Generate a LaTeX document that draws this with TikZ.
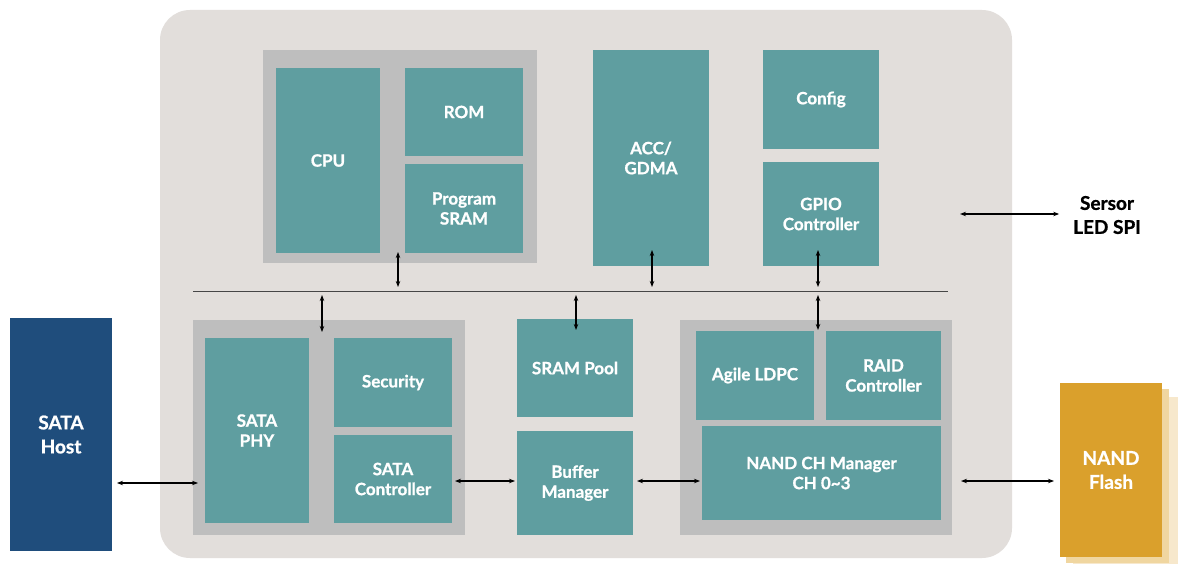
\documentclass[tikz,border=0pt]{standalone}
\usepackage{fontspec}
\setmainfont{Lato}[BoldFeatures={FakeBold=0.9}]
\usetikzlibrary{arrows.meta,calc}
\definecolor{bgchip}{RGB}{226,222,219}
\definecolor{grp}{RGB}{190,190,190}
\definecolor{tealb}{RGB}{95,158,160}
\definecolor{hostb}{RGB}{31,77,124}
\definecolor{flashb}{RGB}{218,160,44}
\definecolor{flashs1}{RGB}{240,214,160}
\definecolor{flashs2}{RGB}{247,232,204}
\definecolor{busc}{RGB}{70,70,70}
\tikzset{
  blk/.style={rectangle, inner sep=0pt, outer sep=0pt, draw=none, anchor=north west,
    text=white, font=\bfseries\fontsize{17}{20}\selectfont, align=center},
  tealbox/.style={blk, fill=tealb},
  grpbox/.style={blk, fill=grp},
  bigbox/.style={blk, font=\bfseries\fontsize{19}{24}\selectfont},
  arr/.style={{Stealth[length=6pt,width=4.5pt]}-{Stealth[length=6pt,width=4.5pt]}, line width=1.2pt, black},
  busline/.style={line width=1pt, busc}
}
\begin{document}
\begin{tikzpicture}[x=1pt,y=-1pt]
\useasboundingbox[fill=white] (0,0) rectangle (1183,564);
% chip background
\node[blk, fill=bgchip, rounded corners=30pt, minimum width=852pt, minimum height=548pt] (chip) at (160,10) {};
% top-left group
\node[grpbox, minimum width=274pt, minimum height=213pt] (tgroup) at (263,50) {};
\node[tealbox, minimum width=104pt, minimum height=185pt] (cpu) at (276,68) {CPU};
\node[tealbox, minimum width=118pt, minimum height=88pt] (rom) at (405,68) {ROM};
\node[tealbox, minimum width=118pt, minimum height=89pt] (psram) at (405,164) {Program\\SRAM};
\node[tealbox, minimum width=116pt, minimum height=216pt] (acc) at (593,50) {ACC/\\GDMA};
\node[tealbox, minimum width=116pt, minimum height=99pt] (config) at (763,50) {Config};
\node[tealbox, minimum width=116pt, minimum height=104pt] (gpio) at (763,162) {GPIO\\Controller};
% bus
\coordinate (busL) at (193,291);
\coordinate (busR) at (948,291);
\draw[busline] (busL) -- (busR);
% bottom-left group
\node[grpbox, minimum width=272pt, minimum height=215pt] (lgroup) at (193,320) {};
\node[tealbox, minimum width=104pt, minimum height=185pt] (phy) at (205,338) {SATA\\PHY};
\node[tealbox, minimum width=118pt, minimum height=89pt] (sec) at (334,338) {Security};
\node[tealbox, minimum width=118pt, minimum height=88pt] (sctl) at (334,435) {SATA\\Controller};
% middle
\node[tealbox, minimum width=116pt, minimum height=98pt] (sram) at (517,319) {SRAM Pool};
\node[tealbox, minimum width=116pt, minimum height=104pt] (buf) at (517,431) {Buffer\\Manager};
% bottom-right group
\node[grpbox, minimum width=272pt, minimum height=215pt] (rgroup) at (680,320) {};
\node[tealbox, minimum width=118pt, minimum height=89pt] (ldpc) at (696,331) {Agile LDPC};
\node[tealbox, minimum width=115pt, minimum height=89pt] (raid) at (826,331) {RAID\\Controller};
\node[tealbox, minimum width=239pt, minimum height=94pt] (nandch) at (702,426) {NAND CH Manager\\CH 0\char`\~3};
% externals
\node[bigbox, fill=hostb, minimum width=102pt, minimum height=233pt] (host) at (10,318) {SATA\\Host};
\node[blk, fill=flashs2, minimum width=105pt, minimum height=175pt] (flashsh2) at (1073,397) {};
\node[blk, fill=flashs1, minimum width=103pt, minimum height=174pt] (flashsh1) at (1066,389) {};
\node[bigbox, fill=flashb, minimum width=102pt, minimum height=174pt] (flash) at (1060,383) {NAND\\Flash};
\node[bigbox, text=black, anchor=center] (sensor) at (1107,215) {Sersor\\LED SPI};
% vertical arrows
\draw[arr] ([shift={(-2,-11)}]tgroup.south) -- ($(tgroup.south |- busL)+(-2,-4)$);
\draw[arr] ([shift={(1,-16)}]acc.south) -- ($(acc.south |- busL)+(1,-4)$);
\draw[arr] ([shift={(-3,-16)}]gpio.south) -- ($(gpio.south |- busL)+(-3,-4)$);
\draw[arr] ($(lgroup.north |- busL)+(-7,4)$) -- ([shift={(-7,12)}]lgroup.north);
\draw[arr] ($(sram.north |- busL)+(1,4)$) -- ([shift={(1,11)}]sram.north);
\draw[arr] ($(rgroup.north |- busL)+(2,4)$) -- ([shift={(2,10)}]rgroup.north);
% horizontal arrows
\draw[arr] ([shift={(5,48.5)}]host.east) -- ([shift={(-7,52.5)}]phy.west);
\draw[arr] ([shift={(3,2)}]sctl.east) -- ([shift={(-2,-2)}]buf.west);
\draw[arr] ([shift={(4,-2)}]buf.east) -- ([shift={(-2,8)}]nandch.west);
\draw[arr] ([shift={(20,8)}]nandch.east) -- ([shift={(-6,11)}]flash.west);
\draw[arr] ([shift={(-52,-70)}]chip.east) -- ([shift={(-14,-1)}]sensor.west);
\end{tikzpicture}
\end{document}
